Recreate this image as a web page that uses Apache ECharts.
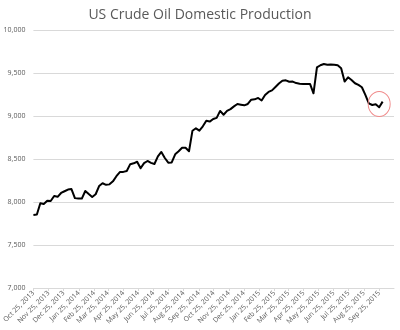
<!DOCTYPE html>
<html>
<head>
<meta charset="utf-8">
<script src="https://cdn.jsdelivr.net/npm/echarts@6/dist/echarts.min.js"></script>
<style>
  html, body { margin: 0; padding: 0; background: #ffffff; }
  #chart { width: 400px; height: 330px; }
</style>
</head>
<body>
<div id="chart"></div>
<script>
// Weekly US crude oil field production, thousand barrels per day
const firstWeek = '2013-10-25';
const production = [
  7850, 7855, 7985, 7978, 8015, 8012, 8070, 8060, 8105, 8125,
  8145, 8150, 8045, 8040, 8040, 8128, 8092, 8058, 8090, 8185,
  8218, 8200, 8205, 8240, 8300, 8348, 8350, 8360, 8440, 8450,
  8468, 8392, 8452, 8477, 8455, 8442, 8530, 8582, 8512, 8457,
  8460, 8555, 8590, 8630, 8630, 8590, 8829, 8857, 8830, 8880,
  8945, 8935, 8965, 8978, 9059, 9015, 9059, 9080, 9112, 9140,
  9132, 9124, 9140, 9190, 9194, 9210, 9180, 9245, 9280, 9298,
  9338, 9378, 9410, 9415, 9398, 9400, 9383, 9375, 9373, 9373,
  9373, 9264, 9565, 9590, 9605, 9597, 9598, 9596, 9590, 9555,
  9400, 9450, 9419, 9381, 9361, 9334, 9245, 9148, 9128, 9136,
  9101, 9167
];

const tickLabels = [
  'Oct 25, 2013', 'Nov 25, 2013', 'Dec 25, 2013', 'Jan 25, 2014',
  'Feb 25, 2014', 'Mar 25, 2014', 'Apr 25, 2014', 'May 25, 2014',
  'Jun 25, 2014', 'Jul 25, 2014', 'Aug 25, 2014', 'Sep 25, 2014',
  'Oct 25, 2014', 'Nov 25, 2014', 'Dec 25, 2014', 'Jan 25, 2015',
  'Feb 25, 2015', 'Mar 25, 2015', 'Apr 25, 2015', 'May 25, 2015',
  'Jun 25, 2015', 'Jul 25, 2015', 'Aug 25, 2015', 'Sep 25, 2015'
];
const axisEnd = 'Oct 25, 2015';

// Latest weeks highlighted by an outline
const highlightWeek = '2015-09-25';
const highlightValue = 9140;

const monthNames = ['Jan','Feb','Mar','Apr','May','Jun','Jul','Aug','Sep','Oct','Nov','Dec'];
function parseLabel(s) {
  const m = s.match(/^(\w{3}) (\d+), (\d{4})$/);
  return Date.UTC(+m[3], monthNames.indexOf(m[1]), +m[2]);
}
function parseIso(s) {
  const p = s.split('-');
  return Date.UTC(+p[0], +p[1] - 1, +p[2]);
}

const DAY = 86400000;
const tickTimes = tickLabels.map(parseLabel);
const labelByTime = {};
tickTimes.forEach((t, i) => { labelByTime[t] = tickLabels[i]; });

const start = parseIso(firstWeek);
const seriesData = production.map((v, i) => [start + 7 * i * DAY, v]);

const textColor = '#595959';
const gridColor = '#d9d9d9';

const chart = echarts.init(document.getElementById('chart'), null, { renderer: 'canvas' });
chart.setOption({
  animation: false,
  backgroundColor: '#ffffff',
  title: {
    text: 'US Crude Oil Domestic Production',
    left: 'center',
    top: 3,
    textStyle: {
      fontFamily: 'Open Sans',
      fontSize: 14,
      fontWeight: 'normal',
      color: textColor
    }
  },
  grid: { left: 30, right: 6, top: 30, bottom: 42, containLabel: false },
  xAxis: {
    type: 'value',
    min: tickTimes[0],
    max: parseLabel(axisEnd),
    splitLine: { show: false },
    axisLine: { show: true, onZero: false, lineStyle: { color: gridColor, width: 1 } },
    axisTick: {
      show: true,
      length: 3,
      lineStyle: { color: gridColor },
      customValues: tickTimes
    },
    axisLabel: {
      rotate: 45,
      fontSize: 7,
      fontFamily: 'Open Sans',
      color: textColor,
      margin: 4,
      hideOverlap: false,
      customValues: tickTimes,
      formatter: (v) => labelByTime[v] || ''
    }
  },
  yAxis: {
    type: 'value',
    min: 7000,
    max: 10000,
    interval: 500,
    axisLine: { show: false },
    axisTick: { show: false },
    splitLine: { lineStyle: { color: gridColor, width: 1 } },
    axisLabel: {
      fontSize: 7,
      fontFamily: 'Open Sans',
      color: textColor,
      margin: 8,
      formatter: (v) => v.toLocaleString('en-US')
    }
  },
  series: [{
    type: 'line',
    data: seriesData,
    showSymbol: false,
    symbol: 'none',
    lineStyle: { color: '#000000', width: 2, join: 'round' },
    markPoint: {
      silent: true,
      symbol: 'circle',
      symbolSize: [22, 25],
      label: { show: false },
      itemStyle: { color: 'rgba(0,0,0,0)', borderColor: '#f08a8a', borderWidth: 1 },
      data: [{ coord: [parseIso(highlightWeek), highlightValue] }]
    }
  }]
});
</script>
</body>
</html>
